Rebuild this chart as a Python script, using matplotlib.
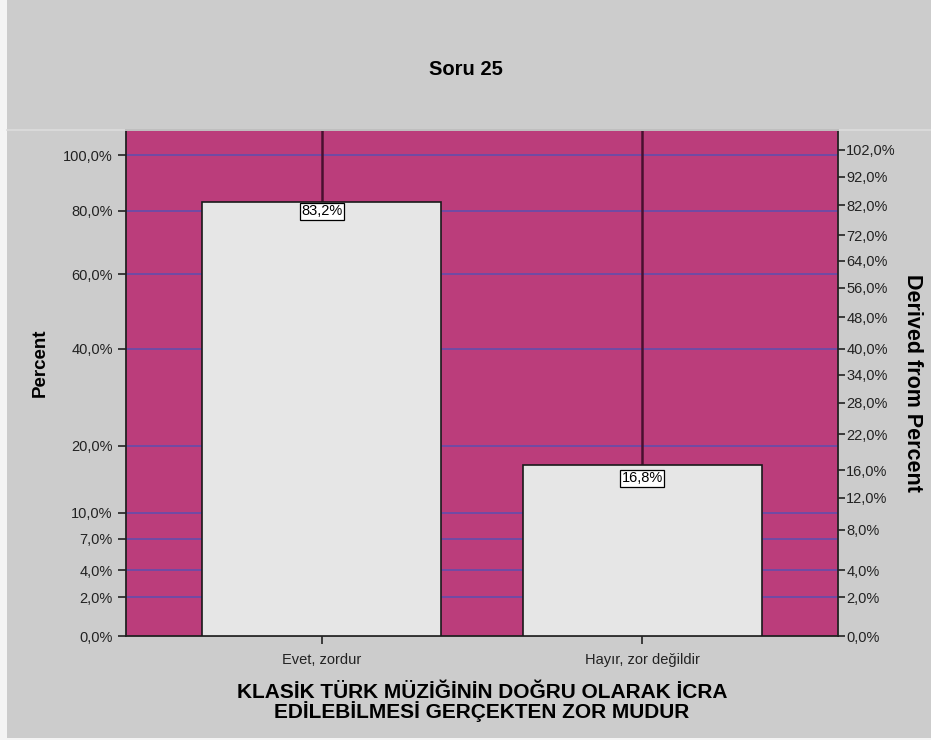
import numpy as np
import matplotlib.pyplot as plt
from matplotlib.patches import Rectangle
from matplotlib.ticker import FixedLocator, FuncFormatter

plt.rcParams['font.family'] = ['Liberation Sans', 'DejaVu Sans']

# yanıt kategorileri ve yüzdeler
categories = ["Evet, zordur", "Hayır, zor değildir"]
percents = [83.2, 16.8]
left_ticks = [0, 2, 4, 7, 10, 20, 40, 60, 80, 100]
right_ticks = [0, 2, 4, 8, 12, 16, 22, 28, 34, 40, 48, 56, 64, 72, 82, 92, 102]


def fwd(v):
    return np.sqrt(np.clip(np.asarray(v, dtype=float) + 1, 0, None)) - 1


def inv(v):
    return (np.asarray(v, dtype=float) + 1) ** 2 - 1


def pct(v, pos=None):
    return f"{v:.1f}%".replace(".", ",")


fig = plt.figure(figsize=(9.31, 7.40), dpi=100, facecolor="#cccccc")
# beyaz kenar şeridi
fig.patches.append(Rectangle((0, 0), 0.008, 1, transform=fig.transFigure,
                             facecolor="#f4f4f4", edgecolor="none", zorder=0))
fig.patches.append(Rectangle((0, 0), 1, 0.003, transform=fig.transFigure,
                             facecolor="#f4f4f4", edgecolor="none", zorder=0))
fig.lines.append(plt.Line2D([0.008, 1], [0.825, 0.825], transform=fig.transFigure,
                            color="#dcdcdc", lw=1.2))

ax = fig.add_axes([0.1353, 0.1405, 0.7648, 0.6838])
ax.set_facecolor("#bb3d7b")
ax.set_yscale("function", functions=(fwd, inv))
ymax = 109.7
ax.set_ylim(0, ymax)
ax.set_xlim(-0.61, 1.61)

x = np.arange(len(categories))
bars = ax.bar(x, percents, width=0.745, color="#e6e6e6", edgecolor="#1a1a1a",
              linewidth=1.2, zorder=3)
# çubuk tepesinden yukarı uzanan çizgi
ax.vlines(x, percents, ymax, color="#4a1030", lw=1.8, zorder=2)

for xi, p in zip(x, percents):
    ax.text(xi, p - 1.0, pct(p), ha="center", va="top", fontsize=10.5, zorder=5,
            bbox=dict(boxstyle="square,pad=0.1", facecolor="white",
                      edgecolor="black", linewidth=0.9))

ax.yaxis.set_major_locator(FixedLocator(left_ticks))
ax.yaxis.set_minor_locator(FixedLocator([]))
ax.yaxis.set_major_formatter(FuncFormatter(pct))
for t in left_ticks[1:]:
    ax.axhline(t, color="#5b4fb0", lw=1.1, zorder=1)

ax.set_xticks(x)
ax.set_xticklabels(categories, color="#222222")
ax.tick_params(axis="both", length=6, width=1.2, color="#222222", labelsize=10.5,
               labelcolor="#222222")
ax.tick_params(axis="x", pad=6)
for s in ax.spines.values():
    s.set_color("#222222")
    s.set_linewidth(1.3)

ax.set_ylabel("Percent", fontsize=13.5, fontweight="bold", va="center")
ax.yaxis.set_label_coords(-0.121, 0.54)
ax.set_xlabel("KLASİK TÜRK MÜZİĞİNİN DOĞRU OLARAK İCRA\nEDİLEBİLMESİ GERÇEKTEN ZOR MUDUR",
              fontsize=15, fontweight="bold", labelpad=12, linespacing=0.95)

ax2 = ax.twinx()
ax2.set_yscale("function", functions=(fwd, inv))
ax2.set_ylim(0, ymax)
ax2.yaxis.set_major_locator(FixedLocator(right_ticks))
ax2.yaxis.set_minor_locator(FixedLocator([]))
ax2.yaxis.set_major_formatter(FuncFormatter(pct))
ax2.tick_params(axis="y", length=5, width=1.2, color="#222222", labelsize=10.5,
                labelcolor="#222222", pad=1)
for s in ax2.spines.values():
    s.set_visible(False)
ax2.set_ylabel("Derived from Percent", fontsize=15.5, fontweight="bold",
               rotation=270, va="center")
ax2.yaxis.set_label_coords(1.105, 0.5)

fig.text(0.5, 0.906, "Soru 25", ha="center", va="center",
         fontsize=14.5, fontweight="bold")

fig.savefig("out.png", dpi=100, facecolor=fig.get_facecolor())
